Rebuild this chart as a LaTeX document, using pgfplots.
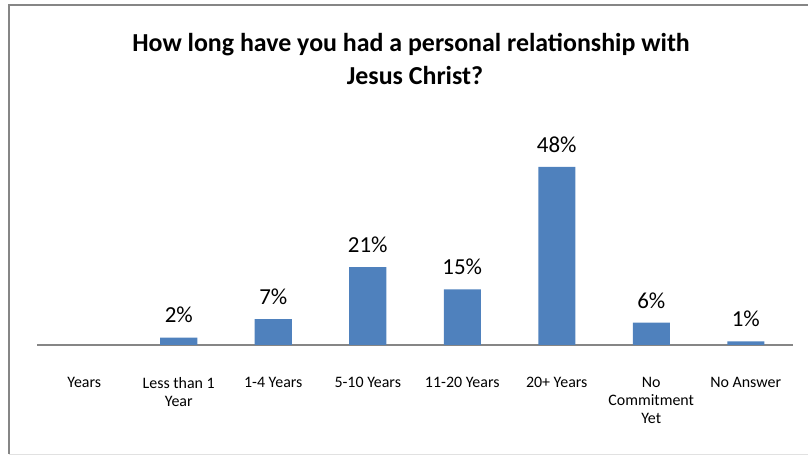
\documentclass[border=0pt]{standalone}
\usepackage{fontspec}
\setmainfont{Carlito}
\usepackage{pgfplots}
\pgfplotsset{compat=1.18}
\definecolor{barblue}{HTML}{4F81BD}
\definecolor{axgray}{HTML}{868686}
\begin{document}
\begin{tikzpicture}
\useasboundingbox (0bp,0bp) rectangle (808bp,455bp);
% chart frame (right side falls outside the picture)
\draw[axgray, line width=2bp] (820bp,449.5bp) -- (9bp,449.5bp) -- (9bp,1bp);
\draw[axgray!25, line width=1bp] (9bp,1bp) -- (820bp,1bp);
\node[font=\bfseries\fontsize{26}{33}\selectfont, anchor=base] at (411bp,403bp)
  {How long have you had a personal relationship with};
\node[font=\bfseries\fontsize{26}{33}\selectfont, anchor=base] at (415bp,370bp)
  {Jesus Christ?};
\begin{axis}[
  at={(37bp,110bp)}, anchor=south west,
  scale only axis, width=756bp, height=225bp,
  xmin=-0.5, xmax=7.5, ymin=0, ymax=60.6,
  hide y axis,
  axis x line=bottom,
  x axis line style={-, draw=axgray, line width=2.5bp},
  major tick length=0,
  xtick={0,1,2,3,4,5,6,7},
  xticklabels={Years, {Less than 1\\Year}, 1-4 Years, 5-10 Years, 11-20 Years, 20+ Years, {No\\Commitment\\Yet}, No Answer},
  xticklabel style={align=center, font=\fontsize{16}{18}\selectfont, yshift=-29bp},
  /pgf/number format/assume math mode=true,
  nodes near coords={\pgfmathprintnumber{\pgfplotspointmeta}\%},
  every node near coord/.append style={font=\fontsize{23}{27}\selectfont, yshift=11bp},
]
\addplot[ybar, bar width=37bp, fill=barblue, draw=none] coordinates {
  (1,2) (2,7) (3,21) (4,15) (5,48) (6,6) (7,1)
};
\end{axis}
\end{tikzpicture}
\end{document}
